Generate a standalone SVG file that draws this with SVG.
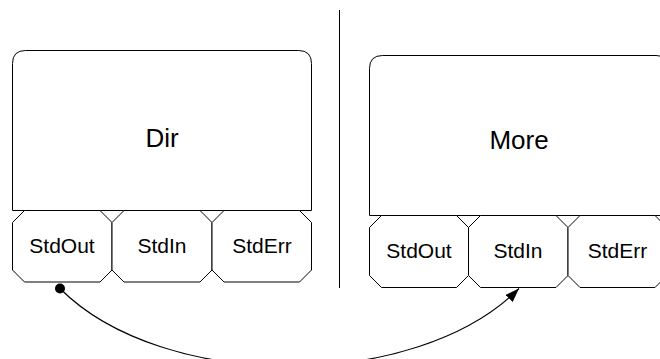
<svg xmlns="http://www.w3.org/2000/svg" width="660" height="359" viewBox="0 0 660 359">
<style>
.box{fill:#fff;stroke:#000;stroke-width:1}
.oct{fill:#fff;stroke:#000;stroke-width:1}
.title{font-family:"Liberation Sans",Arial,sans-serif;font-size:26px;fill:#000;text-anchor:middle}
.port{font-family:"Liberation Sans",Arial,sans-serif;font-size:21px;fill:#000;text-anchor:middle}
.conn{fill:none;stroke:#000;stroke-width:1.2}
</style>
<defs>
<marker id="arrow" viewBox="0 0 14 10" refX="14" refY="5" markerWidth="14" markerHeight="10" markerUnits="userSpaceOnUse" orient="auto">
<path d="M0,0 L14,5 L0,10 Z" fill="#000"/>
</marker>
</defs>
<rect width="660" height="359" fill="#fff"/>
<line x1="339.5" y1="10" x2="339.5" y2="288" stroke="#000" stroke-width="1"/>
<g id="dir">
<path class="box" d="M12.5,210.5 V63.5 Q12.5,50.5 25.5,50.5 H298.5 Q311.5,50.5 311.5,63.5 V210.5 Z"/>
<text class="title" x="162" y="147">Dir</text>
</g>
<g id="dir-stdout">
<path class="oct" d="M24.5,210.5 H100 L112,222.5 V270 L100,282 H24.5 L12.5,270 V222.5 Z"/>
<text class="port" x="62" y="253">StdOut</text>
</g>
<g id="dir-stdin">
<path class="oct" d="M124,210.5 H200 L212,222.5 V270 L200,282 H124 L112,270 V222.5 Z"/>
<text class="port" x="162" y="253">StdIn</text>
</g>
<g id="dir-stderr">
<path class="oct" d="M224,210.5 H299.5 L311.5,222.5 V270 L299.5,282 H224 L212,270 V222.5 Z"/>
<text class="port" x="262" y="253">StdErr</text>
</g>
<g id="more">
<path class="box" d="M369.5,215.5 V68.5 Q369.5,55.5 382.5,55.5 H656 Q669,55.5 669,68.5 V215.5 Z"/>
<text class="title" x="519" y="149">More</text>
</g>
<g id="more-stdout">
<path class="oct" d="M381.5,215.5 H456.5 L468.5,227.5 V275.5 L456.5,287.5 H381.5 L369.5,275.5 V227.5 Z"/>
<text class="port" x="419" y="258">StdOut</text>
</g>
<g id="more-stdin">
<path class="oct" d="M480.5,215.5 H556 L568,227.5 V275.5 L556,287.5 H480.5 L468.5,275.5 V227.5 Z"/>
<text class="port" x="518" y="258">StdIn</text>
</g>
<g id="more-stderr">
<path class="oct" d="M580,215.5 H655 L667,227.5 V275.5 L655,287.5 H580 L568,275.5 V227.5 Z"/>
<text class="port" x="617.5" y="258">StdErr</text>
</g>
<g id="connectors">
<circle cx="60" cy="288.5" r="5" fill="#000"/>
<path class="conn" d="M60,288.5 C163,392 416,392 519,288.5" marker-end="url(#arrow)"/>
</g>
</svg>
